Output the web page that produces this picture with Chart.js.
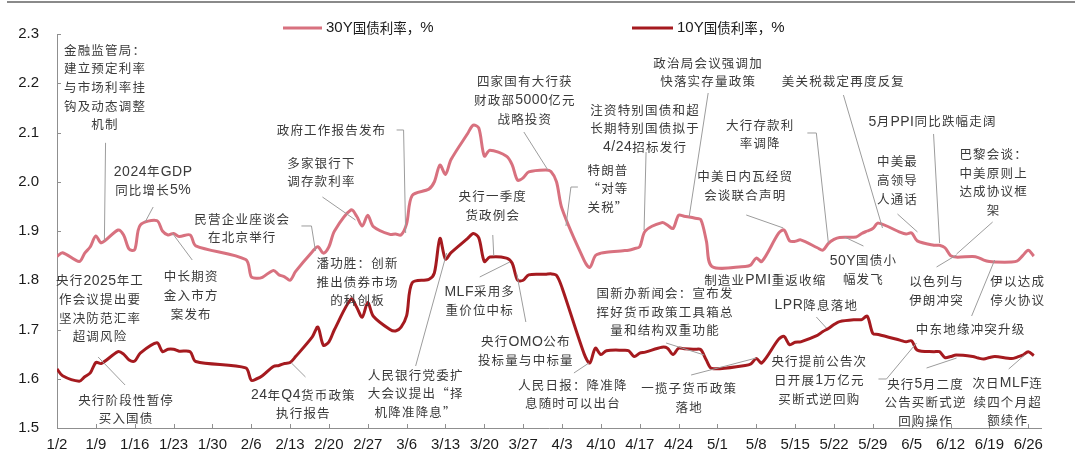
<!DOCTYPE html>
<html>
<head>
<meta charset="utf-8">
<script src="https://cdn.jsdelivr.net/npm/chart.js@4.4.1/dist/chart.umd.min.js"></script>
<style>
  html, body { margin: 0; padding: 0; background: #fff; }
  #wrap { width: 1080px; height: 461px; }
</style>
</head>
<body>
<div id="wrap"><canvas id="chart" width="1080" height="461"></canvas></div>
<script>
// trading days, 2025 H1
const dates = [
  '1/2','1/3','1/6','1/7','1/8','1/9','1/10',
  '1/13','1/14','1/15','1/16','1/17',
  '1/20','1/21','1/22','1/23','1/24','1/26','1/27',
  '2/5','2/6','2/7','2/8','2/10','2/11','2/12','2/13','2/14',
  '2/17','2/18','2/19','2/20','2/21',
  '2/24','2/25','2/26','2/27','2/28',
  '3/3','3/4','3/5','3/6','3/7',
  '3/10','3/11','3/12','3/13','3/14',
  '3/17','3/18','3/19','3/20','3/21',
  '3/24','3/25','3/26','3/27','3/28',
  '3/31','4/1','4/2','4/3',
  '4/7','4/8','4/9','4/10','4/11',
  '4/14','4/15','4/16','4/17','4/18',
  '4/21','4/22','4/23','4/24','4/25','4/27',
  '4/28','4/29','4/30',
  '5/6','5/7','5/8','5/9',
  '5/12','5/13','5/14','5/15','5/16',
  '5/19','5/20','5/21','5/22','5/23',
  '5/26','5/27','5/28','5/29','5/30',
  '6/3','6/4','6/5','6/6',
  '6/9','6/10','6/11','6/12','6/13',
  '6/16','6/17','6/18','6/19','6/20',
  '6/23','6/24','6/25','6/26','6/27'
];

const y30 = [
  1.848, 1.856, 1.838, 1.855, 1.868, 1.890, 1.876,
  1.902, 1.892, 1.863, 1.862, 1.912,
  1.921, 1.900, 1.892, 1.895, 1.889, 1.892, 1.870,
  1.842, 1.807, 1.804, 1.806, 1.820, 1.811, 1.807, 1.800, 1.818,
  1.858, 1.868, 1.855, 1.868, 1.900,
  1.943, 1.930, 1.910, 1.932, 1.909,
  1.893, 1.894, 1.892, 1.915, 1.972,
  1.985, 2.000, 2.034, 2.015, 2.045,
  2.098, 2.115, 2.109, 2.052, 2.064,
  2.052, 2.035, 2.003, 2.008, 2.020,
  2.024, 2.021, 2.000, 1.945,
  1.840, 1.826, 1.850, 1.855, 1.857,
  1.860, 1.861, 1.864, 1.868, 1.900,
  1.917, 1.912, 1.905, 1.932, 1.930, 1.926,
  1.923, 1.880, 1.828,
  1.828, 1.831, 1.845, 1.838,
  1.895, 1.902, 1.880, 1.879, 1.882,
  1.866, 1.861, 1.875, 1.883, 1.887,
  1.888, 1.895, 1.900, 1.905, 1.916,
  1.897, 1.894, 1.896, 1.880,
  1.871, 1.871, 1.866, 1.850, 1.847,
  1.848, 1.846, 1.841, 1.838, 1.837,
  1.837, 1.839, 1.850, 1.861, 1.849
];

const y10 = [
  1.620, 1.606, 1.595, 1.604, 1.612, 1.633, 1.631,
  1.655, 1.650, 1.638, 1.636, 1.652,
  1.673, 1.655, 1.660, 1.660, 1.656, 1.655, 1.635,
  1.622, 1.597, 1.600, 1.606, 1.625, 1.627, 1.631, 1.633, 1.645,
  1.685, 1.705, 1.668, 1.675, 1.700,
  1.762, 1.745, 1.725, 1.755, 1.727,
  1.700, 1.697, 1.705, 1.728, 1.795,
  1.802, 1.815, 1.885, 1.843, 1.856,
  1.885, 1.895, 1.886, 1.838, 1.847,
  1.845, 1.835, 1.800, 1.800, 1.811,
  1.812, 1.813, 1.810, 1.785,
  1.650, 1.632, 1.662, 1.649, 1.657,
  1.658, 1.657, 1.645, 1.652, 1.654,
  1.664, 1.662, 1.649, 1.662, 1.661, 1.660,
  1.659, 1.638, 1.621,
  1.627, 1.630, 1.641, 1.632,
  1.680, 1.686, 1.669, 1.674, 1.675,
  1.688, 1.696, 1.702, 1.710, 1.716,
  1.720, 1.720, 1.727, 1.692, 1.690,
  1.678, 1.675, 1.677, 1.658,
  1.655, 1.655, 1.643, 1.645, 1.648,
  1.645, 1.642, 1.640, 1.643, 1.645,
  1.641, 1.644, 1.648, 1.655, 1.647
];

const tickLabels = ['1/2','1/9','1/16','1/23','1/30','2/6','2/13','2/20','2/27','3/6','3/13','3/20','3/27',
  '4/3','4/10','4/17','4/24','5/1','5/8','5/15','5/22','5/29','6/5','6/12','6/19','6/26'];

const seriesNames = ['30Y国债利率，%', '10Y国债利率，%'];

// event notes, placed in axis units: [days since 1/2, yield]
const notes = [
  { text: ['金融监管局：','建立预定利率','与市场利率挂','钩及动态调整','机制'], at: [8.66, 2.2675], leader: [[8.75, 2.079], [8.54, 1.880]] },
  { text: ['2024年GDP','同比增长5%'], at: [17.33, 2.0204], leader: [[17.33, 1.9487], [15.88, 1.9183]] },
  { text: ['民营企业座谈会','在北京举行'], at: [33.39, 1.9244], leader: [[44.04, 1.9102], [45.85, 1.9102], [46.57, 1.8594]] },
  { text: ['政府工作报告发布'], at: [49.46, 2.1051], leader: [[61.19, 2.1051], [62.45, 2.1051], [62.82, 1.8959]] },
  { text: ['多家银行下','调存款利率'], at: [47.65, 2.0381], leader: [[47.83, 1.969], [53.79, 1.9223]] },
  { text: ['潘功胜：创新','推出债券市场','的科创板'], at: [54.15, 1.8344], leader: [] },
  { text: ['中长期资','金入市方','案发布'], at: [24.19, 1.8072], leader: [[24.37, 1.8411], [20.76, 1.8959]] },
  { text: ['央行2025年工','作会议提出要','坚决防范汇率','超调风险'], at: [7.76, 1.7991], leader: [] },
  { text: ['央行阶段性暂停','买入国债'], at: [12.45, 1.5569], leader: [[12.27, 1.5873], [7.40, 1.6442]] },
  { text: ['24年Q4货币政策','执行报告'], at: [44.40, 1.5670], leader: [[44.77, 1.6036], [42.24, 1.6320]] },
  { text: ['人民银行党委扩','大会议提出“择','机降准降息”'], at: [64.62, 1.6076], leader: [[64.62, 1.6259], [70.22, 1.8553]] },
  { text: ['央行一季度','货政例会'], at: [78.52, 1.9696], leader: [[78.52, 1.8919], [78.70, 1.8492]] },
  { text: ['MLF采用多','重价位中标'], at: [76.17, 1.7767], leader: [[76.17, 1.8066], [81.59, 1.8371]] },
  { text: ['央行OMO公布','投标量与中标量'], at: [84.48, 1.6752], leader: [[84.48, 1.7152], [82.85, 1.8127]] },
  { text: ['四家国有大行获','财政部5000亿元','战略投资'], at: [84.30, 2.2031], leader: [[84.12, 2.101], [88.45, 2.0239]] },
  { text: ['人民日报：降准降','息随时可以出台'], at: [92.96, 1.5873], leader: [[93.14, 1.6117], [95.85, 1.6320]] },
  { text: ['特朗普','“对等','关税”'], at: [99.28, 2.0239], leader: [[93.86, 1.9893], [92.60, 1.9893], [91.70, 1.9102]] },
  { text: ['注资特别国债和超','长期特别国债拟于','4/24招标发行'], at: [105.96, 2.1457], leader: [[106.14, 2.0604], [105.78, 1.902]] },
  { text: ['政治局会议强调加','快落实存量政策'], at: [117.33, 2.2411], leader: [[117.33, 2.1802], [113.90, 1.9284]] },
  { text: ['美关税裁定再度反复'], at: [141.70, 2.2031], leader: [[141.70, 2.1761], [148.74, 1.9061]] },
  { text: ['大行存款利','率调降'], at: [126.71, 2.1152], leader: [[135.20, 2.099], [136.82, 2.099], [138.99, 1.8756]] },
  { text: ['中美日内瓦经贸','会谈联合声明'], at: [124.01, 2.0103], leader: [[124.19, 1.9325], [130.87, 1.9061]] },
  { text: ['制造业PMI重返收缩'], at: [127.62, 1.8005], leader: [] },
  { text: ['50Y国债小','幅发飞'], at: [145.31, 1.8397], leader: [[145.31, 1.8695], [141.88, 1.8878]] },
  { text: ['5月PPI同比跌幅走阔'], at: [157.76, 2.1219], leader: [[157.94, 2.097], [159.03, 1.8756]] },
  { text: ['中美最','高领导','人通话'], at: [151.44, 2.0407], leader: [[151.44, 1.9345], [155.05, 1.898]] },
  { text: ['巴黎会谈：','中美原则上','达成协议框','架'], at: [168.77, 2.0557], leader: [[168.59, 1.9183], [162.09, 1.8533]] },
  { text: ['以色列与','伊朗冲突'], at: [158.48, 1.797], leader: [[158.48, 1.8269], [162.09, 1.8513]] },
  { text: ['伊以达成','停火协议'], at: [173.10, 1.797], leader: [] },
  { text: ['中东地缘冲突升级'], at: [164.62, 1.701], leader: [[164.80, 1.7274], [168.95, 1.8411]] },
  { text: ['LPR降息落地'], at: [136.82, 1.7497], leader: [[136.82, 1.7254], [138.63, 1.703]] },
  { text: ['国新办新闻会：宣布发','挥好货币政策工具箱总','量和结构双重功能'], at: [109.57, 1.7735], leader: [[109.75, 1.6726], [116.61, 1.6482]] },
  { text: ['一揽子货币政策','落地'], at: [113.90, 1.5806], leader: [[114.26, 1.6076], [125.99, 1.6421]] },
  { text: ['央行提前公告次','日开展1万亿元','买断式逆回购'], at: [137.36, 1.6346], leader: [[148.01, 1.5995], [149.46, 1.5995], [154.87, 1.6726]] },
  { text: ['央行5月二度','公告买断式逆','回购操作'], at: [156.50, 1.5893], leader: [[156.68, 1.6218], [162.09, 1.6421]] },
  { text: ['次日MLF连','续四个月超','额续作'], at: [171.30, 1.5908], leader: [[171.48, 1.6198], [174.37, 1.6482]] }
];

const COLORS = { y30: '#d8717f', y10: '#a51a1f', axis: '#8f8f8f', text: '#1a1a1a', note: '#3a3a3a', leader: '#9c9c9c' };
const NOTE_FONT = { latin: '14px "Liberation Sans", Arial, sans-serif', cjk: '12.5px "Noto Sans CJK SC", sans-serif', latinGap: 0.5, cjkGap: 1.2 };
const LEGEND_FONT = { latin: '15px "Liberation Sans", Arial, sans-serif', cjk: '13.5px "Noto Sans CJK SC", sans-serif', latinGap: 0, cjkGap: 0 };
const LINE_H = 18.6;

function toDay(md) {
  const [m, d] = md.split('/').map(Number);
  return (Date.UTC(2025, m - 1, d) - Date.UTC(2025, 0, 2)) / 86400000;
}
const tickDays = tickLabels.map(toDay);

// mixed latin / CJK text, each with its own font
function drawMixed(ctx, str, x, y, st, align) {
  const parts = [...str].map(ch => {
    const cjk = ch.charCodeAt(0) >= 0x2000;
    ctx.font = cjk ? st.cjk : st.latin;
    return { ch, font: ctx.font, w: ctx.measureText(ch).width + (cjk ? st.cjkGap : st.latinGap) };
  });
  const total = parts.reduce((s, p) => s + p.w, 0);
  let cx = align === 'left' ? x : x - total / 2;
  parts.forEach(p => {
    ctx.font = p.font;
    ctx.fillText(p.ch, cx, y);
    cx += p.w;
  });
}

const decor = {
  id: 'decor',
  afterDraw(chart) {
    const { ctx, chartArea: a, scales: { x, y } } = chart;
    ctx.save();

    // rule across the top
    ctx.strokeStyle = '#8a8a8a';
    ctx.lineWidth = 2;
    ctx.beginPath(); ctx.moveTo(7, 2); ctx.lineTo(1075, 2); ctx.stroke();

    // inward tick marks
    ctx.strokeStyle = COLORS.axis;
    ctx.lineWidth = 1;
    ctx.beginPath();
    x.ticks.forEach(t => {
      const px = Math.round(x.getPixelForValue(t.value)) + 0.5;
      ctx.moveTo(px, a.bottom); ctx.lineTo(px, a.bottom - 4);
    });
    y.ticks.forEach(t => {
      const py = Math.round(y.getPixelForValue(t.value)) + 0.5;
      ctx.moveTo(a.left, py); ctx.lineTo(a.left + 4, py);
    });
    ctx.stroke();

    // legend
    ctx.textBaseline = 'middle';
    ctx.fillStyle = COLORS.text;
    [[283, 322, COLORS.y30], [632, 673, COLORS.y10]].forEach(([x0, x1, c], i) => {
      ctx.strokeStyle = c;
      ctx.lineWidth = 3;
      ctx.beginPath(); ctx.moveTo(x0, 28); ctx.lineTo(x1, 28); ctx.stroke();
      drawMixed(ctx, seriesNames[i], x1 + 4, 28, LEGEND_FONT, 'left');
    });

    // leader lines
    ctx.strokeStyle = COLORS.leader;
    ctx.lineWidth = 1;
    notes.forEach(n => {
      if (!n.leader.length) return;
      ctx.beginPath();
      n.leader.forEach(([d, v], i) => {
        const px = x.getPixelForValue(d), py = y.getPixelForValue(v);
        i ? ctx.lineTo(px, py) : ctx.moveTo(px, py);
      });
      ctx.stroke();
    });

    // note text
    ctx.fillStyle = COLORS.note;
    notes.forEach(n => {
      const cx = x.getPixelForValue(n.at[0]);
      const cy = y.getPixelForValue(n.at[1]);
      n.text.forEach((line, i) => drawMixed(ctx, line, cx, cy + i * LINE_H, NOTE_FONT, 'center'));
    });

    ctx.restore();
  }
};

const tickFont = { family: '"Liberation Sans", Arial, sans-serif', size: 15 };

new Chart(document.getElementById('chart'), {
  type: 'line',
  data: {
    datasets: [
      {
        label: seriesNames[0],
        data: dates.map((d, i) => ({ x: toDay(d), y: y30[i] })),
        borderColor: COLORS.y30,
        borderWidth: 3,
        pointRadius: 0,
        tension: 0.3
      },
      {
        label: seriesNames[1],
        data: dates.map((d, i) => ({ x: toDay(d), y: y10[i] })),
        borderColor: COLORS.y10,
        borderWidth: 3,
        pointRadius: 0,
        tension: 0.3
      }
    ]
  },
  options: {
    responsive: false,
    animation: false,
    layout: { padding: { top: 34, right: 39, left: 0, bottom: 0 } },
    plugins: { legend: { display: false }, tooltip: { enabled: false } },
    scales: {
      x: {
        type: 'linear',
        min: 0,
        max: 177.3,
        grid: { display: false, drawTicks: false },
        border: { display: true, color: COLORS.axis, width: 1 },
        afterBuildTicks: s => { s.ticks = tickDays.map(v => ({ value: v })); },
        afterFit: s => { s.height = 33; },
        ticks: {
          autoSkip: false,
          maxRotation: 0,
          padding: 8,
          color: COLORS.text,
          font: tickFont,
          callback: v => tickLabels[tickDays.indexOf(v)] || ''
        }
      },
      y: {
        min: 1.5,
        max: 2.3,
        grid: { display: false, drawTicks: false },
        border: { display: true, color: COLORS.axis, width: 1 },
        afterFit: s => { s.width = 57; },
        ticks: {
          stepSize: 0.1,
          padding: 18,
          color: COLORS.text,
          font: tickFont,
          callback: v => v.toFixed(1)
        }
      }
    }
  },
  plugins: [decor]
});
</script>
</body>
</html>
